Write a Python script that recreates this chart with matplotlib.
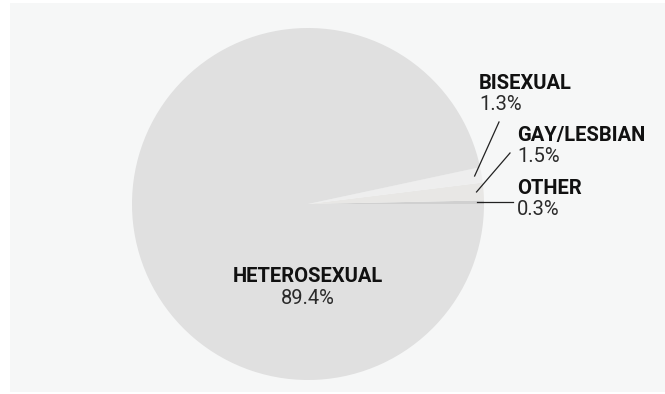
import numpy as np
import matplotlib.pyplot as plt
from matplotlib.patches import Rectangle

# ====== DATA ======
labels = ["OTHER", "GAY/LESBIAN", "BISEXUAL", "HETEROSEXUAL"]
shares = [0.3, 1.5, 1.3, 89.4]
colors = ["#d0d0d0", "#e8e7e5", "#eeeeee", "#e0e0e0"]

# ====== FIGURE (1 data unit = 1 pixel) ======
W, H = 665, 394
fig = plt.figure(figsize=(W / 100, H / 100), dpi=100)
fig.patch.set_facecolor("white")
ax = fig.add_axes([0, 0, 1, 1])

cx, cy, R = 308, 190, 176
wedges, _ = ax.pie(shares, colors=colors, startangle=0, counterclock=True,
                   center=(cx, cy), radius=R, frame=True,
                   wedgeprops=dict(linewidth=0))
ax.set_xlim(0, W)
ax.set_ylim(0, H)
ax.set_aspect("equal")
ax.axis("off")

# panel background
ax.add_patch(Rectangle((10, 2), W - 10, H - 5, facecolor="#f6f7f7", edgecolor="none", zorder=0))

name_font = dict(family="Roboto", weight="bold", size=14.5, color="#111111")
val_font = dict(family="Roboto", weight="normal", size=14.5, color="#2a2a2a")

# small slices: label text position + leader line end
small = {
    "BISEXUAL": ((479, 311), (499, 272)),
    "GAY/LESBIAN": ((517, 259), (510, 241)),
    "OTHER": ((517, 206), (513, None)),
}

for w, name, val in zip(wedges, labels, shares):
    if name not in small:
        continue
    (tx, ty), (ex, ey) = small[name]
    mid = np.deg2rad((w.theta1 + w.theta2) / 2)
    sx = cx + 0.96 * R * np.cos(mid)
    sy = cy + 0.96 * R * np.sin(mid)
    if ey is None:
        ey = sy
    ax.plot([sx, ex], [sy, ey], color="#222222", lw=0.9, zorder=5)
    ax.text(tx, ty, name, ha="left", va="center", **name_font)
    ax.text(tx, ty - 21, f"{val}%", ha="left", va="center", **val_font)

ax.text(cx, 117, labels[3], ha="center", va="center", **name_font)
ax.text(cx, 96, f"{shares[3]}%", ha="center", va="center", **val_font)

fig.savefig("out.png", dpi=100)
